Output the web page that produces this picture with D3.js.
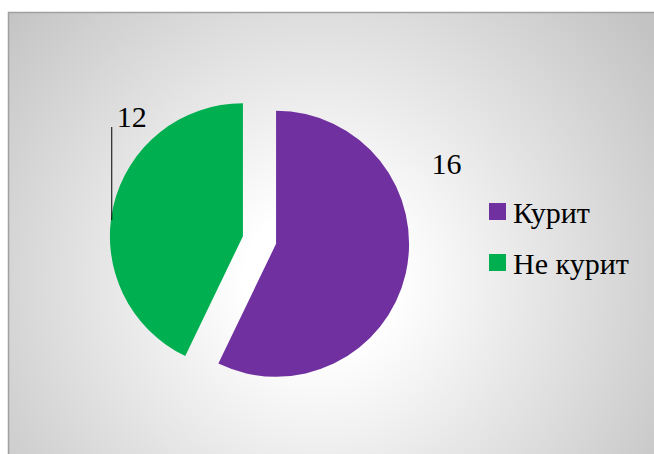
<!DOCTYPE html>
<html>
<head>
<meta charset="utf-8">
<script src="https://cdn.jsdelivr.net/npm/d3@7/dist/d3.min.js"></script>
</head>
<body style="margin:0">
<svg id="chart" width="654" height="454" style="display:block"></svg>
<script>
var width = 654, height = 454;

// data
var categories = ["Курит", "Не курит"]
var values = [16, 12]
var colors = ["#7030a0", "#00b050"]

// layout
var cx = 259.5, cy = 240, radius = 133, explode = 17
var labelAngle = [65, 317], labelDist = [188, 163]

var svg = d3.select("#chart")

// background gradient
var defs = svg.append("defs")
var grad = defs.append("radialGradient")
    .attr("id", "bg")
    .attr("gradientUnits", "userSpaceOnUse")
    .attr("cx", 320).attr("cy", 280).attr("r", 415)
    .attr("fx", 320).attr("fy", 280)
grad.append("stop").attr("offset", 0).attr("stop-color", "#ffffff")
grad.append("stop").attr("offset", 0.18).attr("stop-color", "#ffffff")
grad.append("stop").attr("offset", 1).attr("stop-color", "#c3c3c3")

svg.append("rect")
    .attr("x", 8.5).attr("y", 12.5)
    .attr("width", 700).attr("height", 500)
    .attr("fill", "url(#bg)")
    .attr("stroke", "#a0a0a0")
    .attr("stroke-width", 1.5)

var data = categories.map(function(c, i){ return {name: c, value: values[i], color: colors[i]} })

var pie = d3.pie().sort(null).value(d => d.value)
var arcs = pie(data)
var arc = d3.arc().innerRadius(0).outerRadius(radius)

function offset(d){
    var a = (d.startAngle + d.endAngle) / 2
    return [explode * Math.sin(a), -explode * Math.cos(a)]
}

var g = svg.append("g").attr("transform", "translate(" + cx + "," + cy + ")")

g.selectAll(".slice")
    .data(arcs)
    .enter().append("path")
    .attr("class", "slice")
    .attr("d", arc)
    .attr("fill", d => d.data.color)
    .attr("transform", d => "translate(" + offset(d)[0] + "," + offset(d)[1] + ")")

// data labels
arcs.forEach(function(d, i){
    var o = offset(d)
    var a = labelAngle[i] * Math.PI / 180
    var lx = o[0] + labelDist[i] * Math.sin(a)
    var ly = o[1] - labelDist[i] * Math.cos(a)
    g.append("text")
        .attr("x", lx).attr("y", ly + 10)
        .attr("text-anchor", "middle")
        .attr("font-family", "Liberation Serif")
        .attr("font-size", 30)
        .attr("fill", "#000")
        .text(d.data.value)
    // leader line for the label that sits away from its slice
    if(i == 1){
        var x = lx - 20
        var dx = x - o[0]
        var y = o[1] - Math.sqrt(radius * radius - dx * dx) + 6
        g.append("line")
            .attr("x1", x).attr("x2", x)
            .attr("y1", ly + 10).attr("y2", y)
            .attr("stroke", "#000").attr("stroke-width", 1)
    }
})

// legend
var legend = svg.append("g").attr("transform", "translate(489,203)")
var item = legend.selectAll(".item")
    .data(data)
    .enter().append("g")
    .attr("transform", (d, i) => "translate(0," + i * 51 + ")")
item.append("rect")
    .attr("width", 17).attr("height", 17)
    .attr("fill", d => d.color)
item.append("text")
    .attr("x", 24).attr("y", 20)
    .attr("font-family", "Liberation Serif")
    .attr("font-size", 30)
    .text(d => d.name)
</script>
</body>
</html>
